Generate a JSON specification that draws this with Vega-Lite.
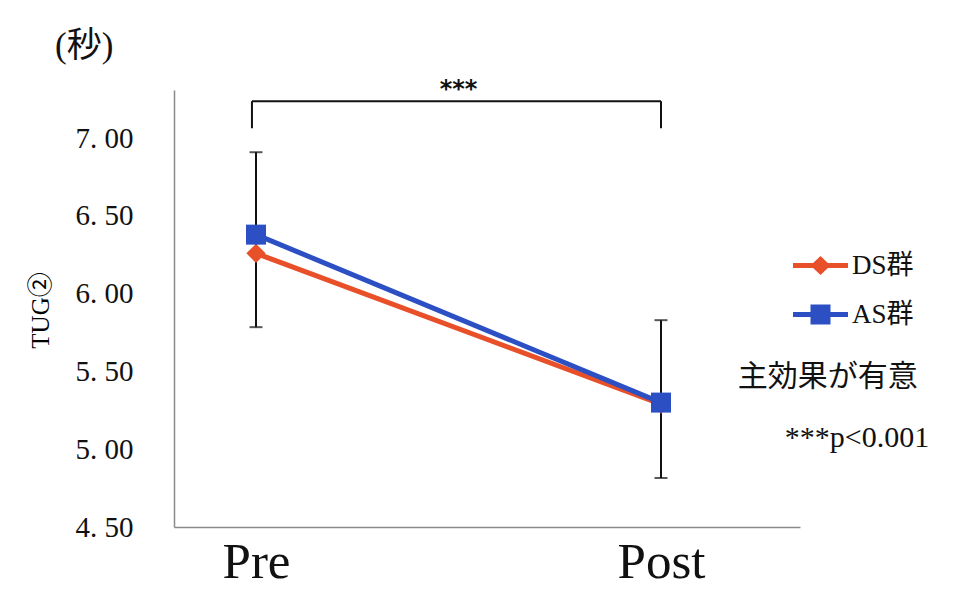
{
  "$schema": "https://vega.github.io/schema/vega-lite/v6.json",
  "width": 626,
  "height": 437,
  "autosize": {"type": "none"},
  "padding": {"left": 174, "top": 90, "right": 158, "bottom": 69},
  "background": "white",
  "title": {
    "text": "(秒)",
    "anchor": "start",
    "frame": "group",
    "dx": -119,
    "offset": 14,
    "fontSize": 35,
    "font": "Liberation Serif, Noto Sans CJK JP",
    "fontWeight": "normal",
    "color": "#111111"
  },
  "config": {
    "view": {"stroke": null},
    "font": "Liberation Serif, Noto Sans CJK JP",
    "axis": {
      "grid": false,
      "ticks": false,
      "tickSize": 0,
      "domainColor": "#8a8a8a",
      "domainWidth": 1.5,
      "labelColor": "#111111",
      "labelFont": "Liberation Serif",
      "titleFont": "Liberation Serif, Noto Sans CJK JP",
      "titleColor": "#111111"
    },
    "axisY": {
      "labelFont": "Liberation Serif",
      "labelFontSize": 29,
      "labelPadding": 41,
      "labelBaseline": "middle",
      "titleFontSize": 25,
      "titleFontWeight": "normal",
      "titleColor": "#000000",
      "titleX": -134,
      "titleY": 220,
      "titleAngle": -90,
      "titleAlign": "center",
      "titleBaseline": "middle"
    },
    "axisX": {
      "labelFont": "Liberation Serif",
      "labelFontSize": 51,
      "labelBaseline": "alphabetic",
      "labelPadding": 50,
      "labelAlign": "center"
    }
  },
  "datasets": {
    "means": [
      {"group": "DS群", "phase": "Pre", "time": 0, "mean": 6.26},
      {"group": "DS群", "phase": "Post", "time": 1, "mean": 5.29},
      {"group": "AS群", "phase": "Pre", "time": 0, "mean": 6.38},
      {"group": "AS群", "phase": "Post", "time": 1, "mean": 5.30}
    ],
    "errors": [
      {"phase": "Pre", "time": 0, "lower": 5.785, "upper": 6.91},
      {"phase": "Post", "time": 1, "lower": 4.815, "upper": 5.83}
    ],
    "bracket": [
      {"x": -0.01, "x2": 1.0, "y": 7.238, "y2": 7.238},
      {"x": -0.01, "x2": -0.01, "y": 7.238, "y2": 7.064},
      {"x": 1.0, "x2": 1.0, "y": 7.238, "y2": 7.064}
    ],
    "stars": [{"x": 0.5, "y": 7.31, "label": "***"}],
    "notes": [
      {"x": 1.412, "y": 5.464, "label": "主効果が有意"},
      {"x": 1.484, "y": 5.072, "label": "***p<0.001"}
    ]
  },
  "layer": [
    {
      "data": {"name": "errors"},
      "mark": {"type": "rule", "color": "#111111", "strokeWidth": 2},
      "encoding": {
        "x": {
          "field": "time",
          "type": "quantitative",
          "scale": {"domain": [-0.20247, 1.34321], "nice": false, "zero": false},
          "axis": {
            "values": [0, 1],
            "labelExpr": "datum.value === 0 ? 'Pre' : 'Post'"
          },
          "title": null
        },
        "y": {
          "field": "lower",
          "type": "quantitative",
          "scale": {"domain": [4.5, 7.31], "nice": false, "zero": false},
          "axis": {
            "values": [4.5, 5.0, 5.5, 6.0, 6.5, 7.0],
            "labelExpr": "replace(format(datum.value, '.2f'), '.', '. ')"
          },
          "title": "TUG②"
        },
        "y2": {"field": "upper"}
      }
    },
    {
      "data": {"name": "errors"},
      "mark": {"type": "tick", "color": "#111111", "orient": "horizontal", "size": 13, "thickness": 2},
      "encoding": {
        "x": {"field": "time", "type": "quantitative", "title": null},
        "y": {"field": "lower", "type": "quantitative", "title": "TUG②"}
      }
    },
    {
      "data": {"name": "errors"},
      "mark": {"type": "tick", "color": "#111111", "orient": "horizontal", "size": 13, "thickness": 2},
      "encoding": {
        "x": {"field": "time", "type": "quantitative", "title": null},
        "y": {"field": "upper", "type": "quantitative", "title": "TUG②"}
      }
    },
    {
      "data": {"name": "means"},
      "transform": [{"filter": "datum.group === 'DS群'"}],
      "mark": {"type": "line", "strokeWidth": 5, "color": "#E8502A"},
      "encoding": {
        "x": {"field": "time", "type": "quantitative", "title": null},
        "y": {"field": "mean", "type": "quantitative", "title": "TUG②"},
        "order": {"field": "time"}
      }
    },
    {
      "data": {"name": "means"},
      "transform": [{"filter": "datum.group === 'AS群'"}],
      "mark": {"type": "line", "strokeWidth": 5, "color": "#2C50C4"},
      "encoding": {
        "x": {"field": "time", "type": "quantitative", "title": null},
        "y": {"field": "mean", "type": "quantitative", "title": "TUG②"},
        "order": {"field": "time"}
      }
    },
    {
      "data": {"name": "means"},
      "mark": {"type": "point", "filled": true, "size": 0, "opacity": 1, "fillOpacity": 1},
      "encoding": {
        "x": {"field": "time", "type": "quantitative", "title": null},
        "y": {"field": "mean", "type": "quantitative", "title": "TUG②"},
        "color": {
          "field": "group",
          "type": "nominal",
          "scale": {"domain": ["DS群", "AS群"], "range": ["#E8502A", "#2C50C4"]},
          "legend": {
            "orient": "none",
            "legendX": 633,
            "legendY": 162,
            "title": null,
            "padding": 0,
            "symbolSize": 400,
            "symbolOpacity": 1,
            "symbolStrokeWidth": 0,
            "labelFont": "Liberation Serif, Noto Sans CJK JP",
            "labelFontSize": 27,
            "labelColor": "#111111",
            "labelOffset": 18,
            "labelLimit": 300,
            "rowPadding": 21
          }
        },
        "shape": {
          "field": "group",
          "type": "nominal",
          "scale": {
            "domain": ["DS群", "AS群"],
            "range": [
              "M-2.75,-0.25H2.75V0.25H-2.75ZM0,-0.95L1,0L0,0.95L-1,0Z",
              "M-2.75,-0.25H2.75V0.25H-2.75ZM-1,-1H1V1H-1Z"
            ]
          }
        }
      }
    },
    {
      "data": {"name": "means"},
      "transform": [{"filter": "datum.group === 'DS群'"}],
      "mark": {"type": "point", "filled": true, "opacity": 1, "size": 370, "shape": "diamond", "color": "#E8502A"},
      "encoding": {
        "x": {"field": "time", "type": "quantitative", "title": null},
        "y": {"field": "mean", "type": "quantitative", "title": "TUG②"}
      }
    },
    {
      "data": {"name": "means"},
      "transform": [{"filter": "datum.group === 'AS群'"}],
      "mark": {"type": "point", "filled": true, "opacity": 1, "size": 400, "shape": "square", "color": "#2C50C4"},
      "encoding": {
        "x": {"field": "time", "type": "quantitative", "title": null},
        "y": {"field": "mean", "type": "quantitative", "title": "TUG②"}
      }
    },
    {
      "data": {"name": "bracket"},
      "mark": {"type": "rule", "color": "#111111", "strokeWidth": 2},
      "encoding": {
        "x": {"field": "x", "type": "quantitative", "title": null},
        "x2": {"field": "x2"},
        "y": {"field": "y", "type": "quantitative", "title": "TUG②"},
        "y2": {"field": "y2"}
      }
    },
    {
      "data": {"name": "stars"},
      "mark": {"type": "text", "font": "DejaVu Sans", "fontWeight": "bold", "fontSize": 24, "color": "#111111", "align": "center", "baseline": "middle"},
      "encoding": {
        "x": {"field": "x", "type": "quantitative", "title": null},
        "y": {"field": "y", "type": "quantitative", "title": "TUG②"},
        "text": {"field": "label"}
      }
    },
    {
      "data": {"name": "notes"},
      "mark": {"type": "text", "font": "Liberation Serif, Noto Sans CJK JP", "fontSize": 30, "color": "#111111", "align": "center", "baseline": "middle"},
      "encoding": {
        "x": {"field": "x", "type": "quantitative", "title": null},
        "y": {"field": "y", "type": "quantitative", "title": "TUG②"},
        "text": {"field": "label"}
      }
    }
  ]
}
